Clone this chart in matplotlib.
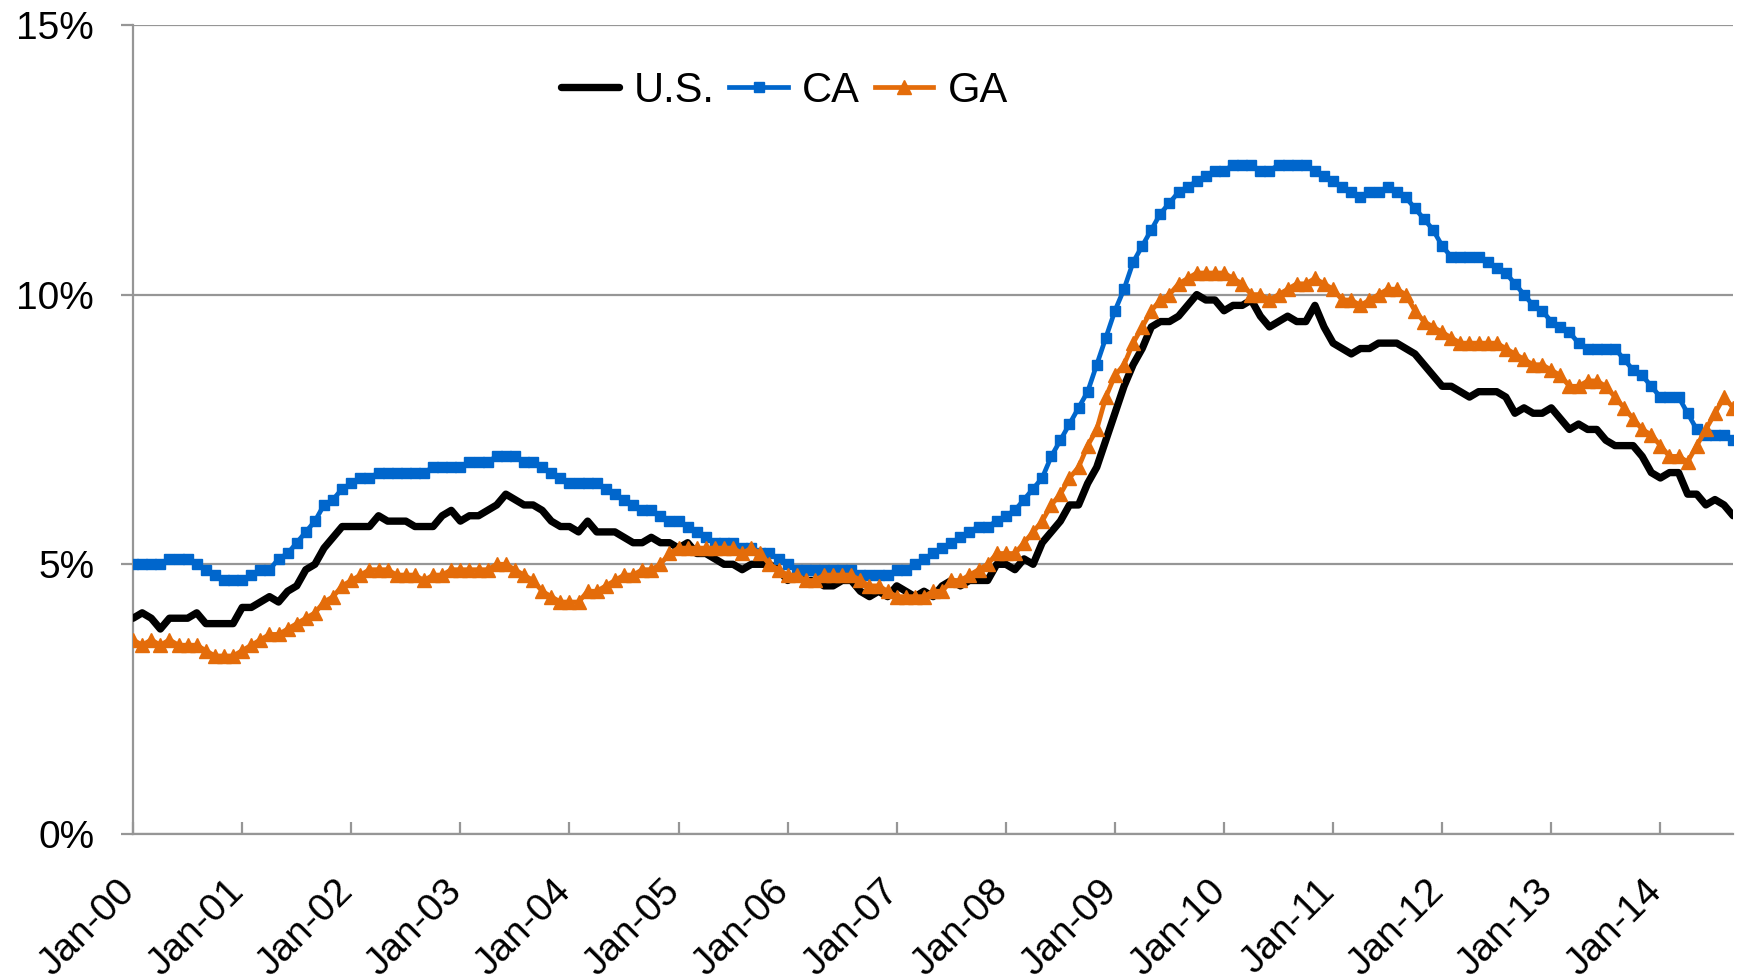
import numpy as np
import matplotlib
matplotlib.use("Agg")
from matplotlib import pyplot as plt
from matplotlib import transforms

plt.rcParams['font.family'] = ['Liberation Sans', 'DejaVu Sans']

# monthly unemployment rate, Jan-2000 .. Sep-2014 (percent)
us = [4.0, 4.1, 4.0, 3.8, 4.0, 4.0, 4.0, 4.1, 3.9, 3.9, 3.9, 3.9,
      4.2, 4.2, 4.3, 4.4, 4.3, 4.5, 4.6, 4.9, 5.0, 5.3, 5.5, 5.7,
      5.7, 5.7, 5.7, 5.9, 5.8, 5.8, 5.8, 5.7, 5.7, 5.7, 5.9, 6.0,
      5.8, 5.9, 5.9, 6.0, 6.1, 6.3, 6.2, 6.1, 6.1, 6.0, 5.8, 5.7,
      5.7, 5.6, 5.8, 5.6, 5.6, 5.6, 5.5, 5.4, 5.4, 5.5, 5.4, 5.4,
      5.3, 5.4, 5.2, 5.2, 5.1, 5.0, 5.0, 4.9, 5.0, 5.0, 5.0, 4.9,
      4.7, 4.8, 4.7, 4.7, 4.6, 4.6, 4.7, 4.7, 4.5, 4.4, 4.5, 4.4,
      4.6, 4.5, 4.4, 4.5, 4.4, 4.6, 4.7, 4.6, 4.7, 4.7, 4.7, 5.0,
      5.0, 4.9, 5.1, 5.0, 5.4, 5.6, 5.8, 6.1, 6.1, 6.5, 6.8, 7.3,
      7.8, 8.3, 8.7, 9.0, 9.4, 9.5, 9.5, 9.6, 9.8, 10.0, 9.9, 9.9,
      9.7, 9.8, 9.8, 9.9, 9.6, 9.4, 9.5, 9.6, 9.5, 9.5, 9.8, 9.4,
      9.1, 9.0, 8.9, 9.0, 9.0, 9.1, 9.1, 9.1, 9.0, 8.9, 8.7, 8.5,
      8.3, 8.3, 8.2, 8.1, 8.2, 8.2, 8.2, 8.1, 7.8, 7.9, 7.8, 7.8,
      7.9, 7.7, 7.5, 7.6, 7.5, 7.5, 7.3, 7.2, 7.2, 7.2, 7.0, 6.7,
      6.6, 6.7, 6.7, 6.3, 6.3, 6.1, 6.2, 6.1, 5.9]

ca = [5.0, 5.0, 5.0, 5.0, 5.1, 5.1, 5.1, 5.0, 4.9, 4.8, 4.7, 4.7,
      4.7, 4.8, 4.9, 4.9, 5.1, 5.2, 5.4, 5.6, 5.8, 6.1, 6.2, 6.4,
      6.5, 6.6, 6.6, 6.7, 6.7, 6.7, 6.7, 6.7, 6.7, 6.8, 6.8, 6.8,
      6.8, 6.9, 6.9, 6.9, 7.0, 7.0, 7.0, 6.9, 6.9, 6.8, 6.7, 6.6,
      6.5, 6.5, 6.5, 6.5, 6.4, 6.3, 6.2, 6.1, 6.0, 6.0, 5.9, 5.8,
      5.8, 5.7, 5.6, 5.5, 5.4, 5.4, 5.4, 5.3, 5.3, 5.2, 5.2, 5.1,
      5.0, 4.9, 4.9, 4.9, 4.9, 4.9, 4.9, 4.9, 4.8, 4.8, 4.8, 4.8,
      4.9, 4.9, 5.0, 5.1, 5.2, 5.3, 5.4, 5.5, 5.6, 5.7, 5.7, 5.8,
      5.9, 6.0, 6.2, 6.4, 6.6, 7.0, 7.3, 7.6, 7.9, 8.2, 8.7, 9.2,
      9.7, 10.1, 10.6, 10.9, 11.2, 11.5, 11.7, 11.9, 12.0, 12.1, 12.2, 12.3,
      12.3, 12.4, 12.4, 12.4, 12.3, 12.3, 12.4, 12.4, 12.4, 12.4, 12.3, 12.2,
      12.1, 12.0, 11.9, 11.8, 11.9, 11.9, 12.0, 11.9, 11.8, 11.6, 11.4, 11.2,
      10.9, 10.7, 10.7, 10.7, 10.7, 10.6, 10.5, 10.4, 10.2, 10.0, 9.8, 9.7,
      9.5, 9.4, 9.3, 9.1, 9.0, 9.0, 9.0, 9.0, 8.8, 8.6, 8.5, 8.3,
      8.1, 8.1, 8.1, 7.8, 7.5, 7.4, 7.4, 7.4, 7.3]

ga = [3.6, 3.5, 3.6, 3.5, 3.6, 3.5, 3.5, 3.5, 3.4, 3.3, 3.3, 3.3,
      3.4, 3.5, 3.6, 3.7, 3.7, 3.8, 3.9, 4.0, 4.1, 4.3, 4.4, 4.6,
      4.7, 4.8, 4.9, 4.9, 4.9, 4.8, 4.8, 4.8, 4.7, 4.8, 4.8, 4.9,
      4.9, 4.9, 4.9, 4.9, 5.0, 5.0, 4.9, 4.8, 4.7, 4.5, 4.4, 4.3,
      4.3, 4.3, 4.5, 4.5, 4.6, 4.7, 4.8, 4.8, 4.9, 4.9, 5.0, 5.2,
      5.3, 5.3, 5.3, 5.3, 5.3, 5.3, 5.3, 5.2, 5.3, 5.2, 5.0, 4.9,
      4.8, 4.8, 4.7, 4.7, 4.8, 4.8, 4.8, 4.8, 4.7, 4.6, 4.6, 4.5,
      4.4, 4.4, 4.4, 4.4, 4.5, 4.5, 4.7, 4.7, 4.8, 4.9, 5.0, 5.2,
      5.2, 5.2, 5.4, 5.6, 5.8, 6.1, 6.3, 6.6, 6.8, 7.2, 7.5, 8.1,
      8.5, 8.7, 9.1, 9.4, 9.7, 9.9, 10.0, 10.2, 10.3, 10.4, 10.4, 10.4,
      10.4, 10.3, 10.2, 10.0, 10.0, 9.9, 10.0, 10.1, 10.2, 10.2, 10.3, 10.2,
      10.1, 9.9, 9.9, 9.8, 9.9, 10.0, 10.1, 10.1, 10.0, 9.7, 9.5, 9.4,
      9.3, 9.2, 9.1, 9.1, 9.1, 9.1, 9.1, 9.0, 8.9, 8.8, 8.7, 8.7,
      8.6, 8.5, 8.3, 8.3, 8.4, 8.4, 8.3, 8.1, 7.9, 7.7, 7.5, 7.4,
      7.2, 7.0, 7.0, 6.9, 7.2, 7.5, 7.8, 8.1, 7.9]

tick_labels = ['Jan-%02d' % y for y in range(0, 15)]
y_ticks = [0, 5, 10, 15]

grey = '#969696'
blue = '#0066CC'
orange = '#E46C0A'

x = np.arange(len(us))

fig = plt.figure(figsize=(17.42, 9.8), dpi=100)
ax = fig.add_axes([0.0764, 0.149, 0.9185, 0.8256])

ax.plot(x, us, color='black', lw=5.3, label='U.S.', zorder=3,
        solid_joinstyle='round', solid_capstyle='round')
ax.plot(x, ca, color=blue, lw=3.4, marker='s', markersize=6.5, label='CA', zorder=4)
ax.plot(x, ga, color=orange, lw=3.4, marker='^', markersize=9.5, label='GA', zorder=5)

ax.set_xlim(0, len(us) - 1)
ax.set_ylim(0, 15)
ax.set_yticks(y_ticks)
ax.set_yticklabels(['%d%%' % v for v in y_ticks])
ax.set_xticks(np.arange(0, len(us), 12))
ax.set_xticklabels(tick_labels, rotation=45, ha='right', va='top')

ax.yaxis.grid(True, color=grey, lw=1.6)
ax.set_axisbelow(True)
for side in ['top', 'right']:
    ax.spines[side].set_visible(False)
for side in ['left', 'bottom']:
    ax.spines[side].set_color(grey)
    ax.spines[side].set_linewidth(1.6)

ax.tick_params(axis='x', direction='in', length=9, width=1.6, color=grey,
               labelsize=28, pad=28)
ax.tick_params(axis='y', direction='out', length=9, width=1.6, color=grey,
               labelsize=28, pad=19)

shift = transforms.ScaledTranslation(9 / 100, 0, fig.dpi_scale_trans)
for lab in ax.get_xticklabels():
    lab.set_transform(lab.get_transform() + shift)

ax.legend(loc='center left', bbox_to_anchor=(561 / 1742, 1 - 91 / 980),
          bbox_transform=fig.transFigure, ncol=3, frameon=False,
          fontsize=30, numpoints=1, handlelength=1.4, handletextpad=0.35,
          columnspacing=0.35, borderpad=0, borderaxespad=0)

fig.savefig('out.png', dpi=100)
